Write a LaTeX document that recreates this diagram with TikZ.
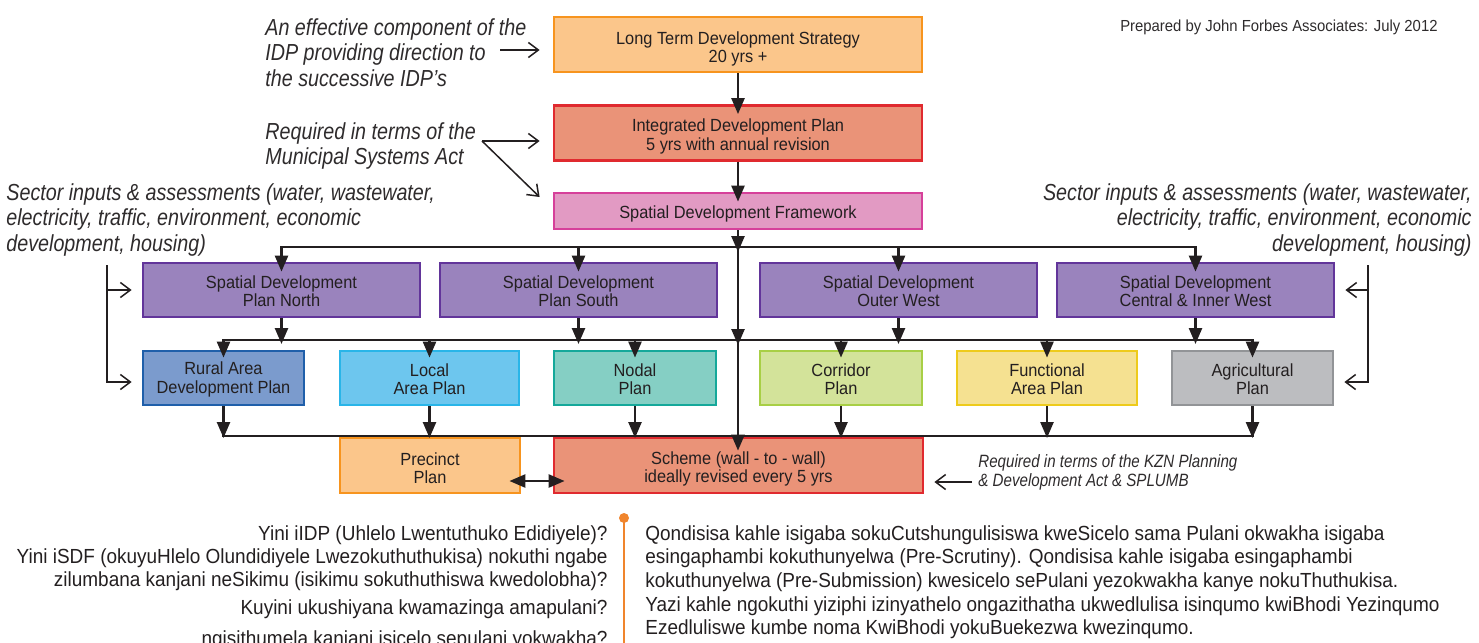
\documentclass[tikz,border=0pt]{standalone}
\usepackage{fontspec}
\setmainfont{Liberation Sans}[FakeStretch=0.93]
\newfontfamily\notefont{Liberation Sans}[FakeStretch=0.85]
\usetikzlibrary{arrows.meta,calc}

\definecolor{ink}{HTML}{231F20}
\definecolor{notegray}{HTML}{2E2B2C}
\definecolor{accent}{HTML}{F0852D}
\definecolor{ltdsfill}{HTML}{FBC68B}
\definecolor{ltdsline}{HTML}{F7941E}
\definecolor{idpfill}{HTML}{EA9378}
\definecolor{idpline}{HTML}{E02A2F}
\definecolor{sdffill}{HTML}{E29AC3}
\definecolor{sdfline}{HTML}{D6409A}
\definecolor{sdpfill}{HTML}{9A83BD}
\definecolor{sdpline}{HTML}{62359A}
\definecolor{ruralfill}{HTML}{7B9BCD}
\definecolor{ruralline}{HTML}{1F5FAA}
\definecolor{localfill}{HTML}{6DC6EE}
\definecolor{localline}{HTML}{29B5E8}
\definecolor{nodalfill}{HTML}{85CFC4}
\definecolor{nodalline}{HTML}{15A89A}
\definecolor{corrfill}{HTML}{D3E39A}
\definecolor{corrline}{HTML}{A8CF45}
\definecolor{funcfill}{HTML}{F5E191}
\definecolor{funcline}{HTML}{EECB1B}
\definecolor{agrifill}{HTML}{BCBDC0}
\definecolor{agriline}{HTML}{929497}

\newcommand\boxtext{\fontsize{8.8pt}{9.25pt}\selectfont}
\newcommand\notetext{\notefont\itshape\fontsize{11.6pt}{12.75pt}\selectfont}
\newcommand\smallnote{\notefont\itshape\fontsize{8.9pt}{9.5pt}\selectfont}
\newcommand\credittext{\fontsize{8pt}{9pt}\selectfont}
\newcommand\bodytextL{\fontsize{10.2pt}{11.6pt}\selectfont}
\newcommand\bodytextR{\fontsize{10.2pt}{11.85pt}\selectfont}
\newcommand\leftlines[1]{\begin{tabular}[t]{@{}l@{}}#1\end{tabular}}
\newcommand\rightlines[1]{\begin{tabular}[t]{@{}r@{}}#1\end{tabular}}
% invisible rule that pushes a box label slightly downwards
\newcommand\drop[1]{\rule{0pt}{#1}}

\begin{document}
\begin{tikzpicture}[
  x=0.5pt, y=-0.5pt,
  planbox/.style={draw, line width=1.4pt, inner sep=0pt, align=center, font=\boxtext, text=ink},
  sdpbox/.style={planbox, fill=sdpfill, draw=sdpline, minimum width=138.5pt, minimum height=27pt},
  rowbox/.style={planbox, minimum height=27pt},
  flow/.style={draw=ink, line width=1.25pt, -{Triangle[length=8pt,width=6.5pt]}},
  twoway/.style={draw=ink, line width=1.25pt, {Triangle[length=8pt,width=6.5pt]}-{Triangle[length=8pt,width=6.5pt]}},
  busline/.style={draw=ink, line width=1.25pt, line cap=rect},
  pointer/.style={draw=ink, line width=0.75pt, -{Straight Barb[length=5pt,width=7.5pt]}},
  notenode/.style={inner sep=0pt, text=notegray, font=\notetext},
  bodynode/.style={inner sep=0pt, text=ink}
]
\useasboundingbox (0,0) rectangle (1479,643);
\clip (0,0) rectangle (1479,643);

% ---- main chain ----
\node[planbox, fill=ltdsfill, draw=ltdsline, minimum width=184pt, minimum height=27.5pt] (ltds) at (738,44.5) {\drop{10.8pt}Long Term Development Strategy\\20 yrs +};
\node[planbox, fill=idpfill, draw=idpline, minimum width=184pt, minimum height=27.5pt] (idp) at (738,133) {\drop{9.6pt}Integrated Development Plan\\5 yrs with annual revision};
\node[planbox, fill=sdffill, draw=sdfline, minimum width=184pt, minimum height=18pt] (sdf) at (738,211) {\drop{9.6pt}Spatial Development Framework};

% ---- regional spatial development plans ----
\node[sdpbox] (sdpN) at (281.5,290) {\drop{7.6pt}Spatial Development\\Plan North};
\node[sdpbox] (sdpS) at (578.5,290) {\drop{7.6pt}Spatial Development\\Plan South};
\node[sdpbox] (sdpW) at (898.5,290) {\drop{7.6pt}Spatial Development\\Outer West};
\node[sdpbox] (sdpC) at (1195.5,290) {\drop{7.6pt}Spatial Development\\Central \& Inner West};

% ---- local plans ----
\node[rowbox, fill=ruralfill, draw=ruralline, minimum width=80.5pt] (rural) at (223.5,378) {\drop{7.6pt}Rural Area\\Development Plan};
\node[rowbox, fill=localfill, draw=localline, minimum width=89.5pt] (local) at (429.5,378) {\drop{7.6pt}Local\\Area Plan};
\node[rowbox, fill=nodalfill, draw=nodalline, minimum width=81pt] (nodal) at (635,378) {\drop{7.6pt}Nodal\\Plan};
\node[rowbox, fill=corrfill, draw=corrline, minimum width=81pt] (corridor) at (841,378) {\drop{7.6pt}Corridor\\Plan};
\node[rowbox, fill=funcfill, draw=funcline, minimum width=90pt] (functional) at (1047,378) {\drop{7.6pt}Functional\\Area Plan};
\node[rowbox, fill=agrifill, draw=agriline, minimum width=80.5pt] (agri) at (1252.5,378) {\drop{7.6pt}Agricultural\\Plan};

% ---- scheme level ----
\node[planbox, fill=ltdsfill, draw=ltdsline, minimum width=90pt, minimum height=27.5pt] (precinct) at (430,465.5) {\drop{9.2pt}Precinct\\Plan};
\node[planbox, fill=idpfill, draw=idpline, minimum width=184.5pt, minimum height=27.5pt] (scheme) at (738.5,465.5) {\drop{9.6pt}Scheme (wall - to - wall)\\ideally revised every 5 yrs};

% ---- bus junctions on the central spine ----
\coordinate (b1) at (738,247);
\coordinate (b2) at (738,340);
\coordinate (b3) at (738,436);

% central spine
\draw[flow, shorten >=-5pt] (ltds) -- (idp);
\draw[flow, shorten >=-5pt] (idp) -- (sdf);
\draw[flow, shorten >=-2.5pt] (sdf) -- (b1);
\draw[flow, shorten >=-2.5pt] (b1) -- (b2);
\draw[flow, shorten >=-7pt] (b2) -- (b2 |- scheme.north);

% first distribution bus
\draw[twoway, shorten <=-5pt, shorten >=-5pt] (sdpN.north) -- (sdpN.north |- b1) -- (sdpC.north |- b1) -- (sdpC.north);
\draw[flow, shorten >=-5pt] (sdpS.north |- b1) -- (sdpS.north);
\draw[flow, shorten >=-5pt] (sdpW.north |- b1) -- (sdpW.north);

% regional plans feed the second bus
\foreach \s in {sdpN,sdpS,sdpW,sdpC}
  \draw[flow, shorten >=-2pt] (\s.south) -- (\s.south |- b2);

% second distribution bus
\draw[twoway, shorten <=-4pt, shorten >=-4pt] (rural.north) -- (rural.north |- b2) -- (agri.north |- b2) -- (agri.north);
\foreach \p in {local,nodal,corridor,functional}
  \draw[flow, shorten >=-4pt] (\p.north |- b2) -- (\p.north);

% local plans feed the third bus
\foreach \p in {rural,local,nodal,corridor,functional,agri}
  \draw[flow, shorten >=-1pt] (\p.south) -- (\p.south |- b3);
\draw[busline] (rural.south |- b3) -- (agri.south |- b3);

% precinct plan <-> scheme
\draw[twoway, shorten <=-6pt, shorten >=-6pt] ($(precinct.east)+(0,15.5)$) -- ($(scheme.west)+(0,15.5)$);

% ---- annotations ----
\node[notenode, anchor=base west] (effnote) at (265,35) {\leftlines{An effective component of the\\IDP providing direction to\\the successive IDP’s}};
\coordinate (efftail) at (500,50);
\draw[pointer] (efftail) -- ($(ltds.west)+(-13,5.5)$);

\node[notenode, anchor=base west] (msanote) at (265,139) {\leftlines{Required in terms of the\\Municipal Systems Act}};
\coordinate (msafork) at (482,141);
\draw[pointer] (msafork) -- ($(idp.west)+(-13,8)$);
\draw[pointer] (msafork) -- ($(sdf.west)+(-13,-14)$);

\node[notenode, anchor=base west] (sectorL) at (6,200) {\leftlines{Sector inputs \& assessments (water, wastewater,\\electricity, traffic, environment, economic\\development, housing)}};
\node[notenode, anchor=base east] (sectorR) at (1472,200) {\rightlines{Sector inputs \& assessments (water, wastewater,\\electricity, traffic, environment, economic\\development, housing)}};

\coordinate (ltop) at (107,265);
\draw[pointer] (ltop) |- ($(rural.west)+(-10,4)$);
\draw[pointer] (ltop |- sdpN.west) -- ($(sdpN.west)+(-10,0)$);
\coordinate (rtop) at (1368,265);
\draw[pointer] (rtop) |- ($(agri.east)+(10,4)$);
\draw[pointer] (rtop |- sdpC.east) -- ($(sdpC.east)+(10,0)$);

\node[inner sep=0pt, anchor=base east, font=\credittext, text=notegray] (credit) at (1438,31) {Prepared by John Forbes Associates: July 2012};

\node[notenode, font=\smallnote, anchor=base west] (kznnote) at (978,467) {\leftlines{Required in terms of the KZN Planning\\\& Development Act \& SPLUMB}};
\coordinate (kzntail) at (972,482);
\draw[pointer] (kzntail) -- ($(scheme.east)+(10,16.5)$);

% ---- questions and answers below the chart ----
\draw[draw=accent, line width=1.3pt] (624,518) -- (624,660);
\fill[accent] (624,518) circle (5);

\node[bodynode, font=\bodytextL, anchor=base east] (q1) at (608,540) {Yini iIDP (Uhlelo Lwentuthuko Edidiyele)?};
\node[bodynode, font=\bodytextL, anchor=base east] (q2) at (608,563) {\rightlines{Yini iSDF (okuyuHlelo Olundidiyele Lwezokuthuthukisa) nokuthi ngabe\\zilumbana kanjani neSikimu (isikimu sokuthuthiswa kwedolobha)?}};
\node[bodynode, font=\bodytextL, anchor=base east] (q3) at (608,614) {Kuyini ukushiyana kwamazinga amapulani?};
\node[bodynode, font=\bodytextL, anchor=base east] (q4) at (608,645) {ngisithumela kanjani isicelo sepulani yokwakha?};

\node[bodynode, font=\bodytextR, anchor=base west] (answer) at (645,540) {\leftlines{Qondisisa kahle isigaba sokuCutshungulisiswa kweSicelo sama Pulani okwakha isigaba\\esingaphambi kokuthunyelwa (Pre-Scrutiny). Qondisisa kahle isigaba esingaphambi\\kokuthunyelwa (Pre-Submission) kwesicelo sePulani yezokwakha kanye nokuThuthukisa.\\Yazi kahle ngokuthi yiziphi izinyathelo ongazithatha ukwedlulisa isinqumo kwiBhodi Yezinqumo\\Ezedluliswe kumbe noma KwiBhodi yokuBuekezwa kwezinqumo.}};
\end{tikzpicture}
\end{document}
